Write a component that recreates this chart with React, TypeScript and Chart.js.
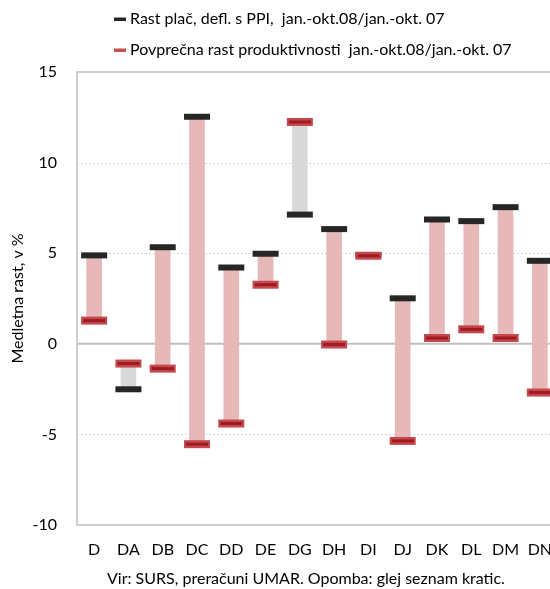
import React, { useEffect, useRef } from "react";
import { Chart, registerables } from "chart.js";

Chart.register(...registerables);

const categories = ["D", "DA", "DB", "DC", "DD", "DE", "DG", "DH", "DI", "DJ", "DK", "DL", "DM", "DN"];
const wageGrowth = [4.88, -2.51, 5.33, 12.53, 4.21, 4.97, 7.13, 6.33, 4.9, 2.51, 6.86, 6.77, 7.54, 4.58];
const productivityGrowth = [1.28, -1.09, -1.37, -5.54, -4.4, 3.26, 12.24, -0.04, 4.86, -5.36, 0.32, 0.8, 0.32, -2.69];
const yTicks = [15, 10, 5, 0, -5, -10];
const legendLabels = [
  "Rast plač, defl. s PPI,  jan.-okt.08/jan.-okt. 07",
  "Povprečna rast produktivnosti  jan.-okt.08/jan.-okt. 07",
];
const yTitle = "Medletna rast, v %";
const footer = "Vir: SURS, preračuni UMAR. Opomba: glej seznam kratic.";

const FONT = "Lato";
const FS = 16;

const extrasPlugin = {
  id: "extras",
  beforeDatasetsDraw(chart: any) {
    const { ctx, chartArea, scales } = chart;
    const y = scales.y;
    ctx.save();
    [10, 5, -5].forEach((v) => {
      const py = Math.round(y.getPixelForValue(v)) + 0.5;
      ctx.strokeStyle = "#d4d4d4";
      ctx.lineWidth = 1;
      ctx.setLineDash([2, 2]);
      ctx.beginPath();
      ctx.moveTo(chartArea.left, py);
      ctx.lineTo(chartArea.right, py);
      ctx.stroke();
    });
    ctx.setLineDash([]);
    const pz = y.getPixelForValue(0);
    ctx.strokeStyle = "#c0c0c0";
    ctx.lineWidth = 2;
    ctx.beginPath();
    ctx.moveTo(chartArea.left, pz);
    ctx.lineTo(chartArea.right, pz);
    ctx.stroke();
    ctx.strokeStyle = "#cfcfcf";
    ctx.lineWidth = 2;
    ctx.strokeRect(chartArea.left, chartArea.top, chartArea.right - chartArea.left, chartArea.bottom - chartArea.top);
    ctx.restore();
  },
  afterDraw(chart: any) {
    const { ctx } = chart;
    ctx.save();
    ctx.font = `${FS}px ${FONT}`;
    ctx.textBaseline = "middle";
    ctx.textAlign = "left";
    const rows = [19, 50];
    const colors = ["#262626", "#c0504d"];
    rows.forEach((ry, i) => {
      ctx.fillStyle = colors[i];
      ctx.fillRect(114, ry - 1.5, 12, 3.5);
      ctx.fillStyle = "#000";
      ctx.fillText(legendLabels[i], 130, ry);
    });
    ctx.fillText(footer, 107, 579);
    ctx.restore();
  },
};

export default function App() {
  const ref = useRef<HTMLCanvasElement>(null);
  useEffect(() => {
    const ranges = categories.map((_, i) => [
      Math.min(wageGrowth[i], productivityGrowth[i]),
      Math.max(wageGrowth[i], productivityGrowth[i]),
    ]);
    const barColors = categories.map((_, i) =>
      productivityGrowth[i] > wageGrowth[i] ? "#d9d9d9" : "#e6b9b8"
    );
    const chart = new Chart(ref.current as HTMLCanvasElement, {
      type: "bar",
      data: {
        labels: categories,
        datasets: [
          {
            type: "bar",
            data: ranges as any,
            backgroundColor: barColors,
            barThickness: 15,
            borderWidth: 0,
            order: 5,
          },
          {
            type: "line",
            data: wageGrowth,
            showLine: false,
            pointStyle: "line",
            pointRadius: 13,
            pointBorderWidth: 6,
            pointBorderColor: "#262626",
            pointBackgroundColor: "#262626",
            order: 3,
          },
          {
            type: "line",
            data: productivityGrowth,
            showLine: false,
            pointStyle: "line",
            pointRadius: 13,
            pointBorderWidth: 8,
            pointBorderColor: "#c4484d",
            pointBackgroundColor: "#c4484d",
            order: 2,
          },
          {
            type: "line",
            data: productivityGrowth,
            showLine: false,
            pointStyle: "line",
            pointRadius: 11,
            pointBorderWidth: 3,
            pointBorderColor: "#a01a22",
            pointBackgroundColor: "#a01a22",
            order: 1,
          },
        ],
      },
      options: {
        animation: false,
        responsive: false,
        layout: { padding: { top: 72, right: 7, left: 0, bottom: 0 } },
        plugins: { legend: { display: false }, tooltip: { enabled: false } },
        scales: {
          x: {
            grid: { display: false, drawTicks: false },
            border: { display: false },
            ticks: {
              color: "#000",
              font: { family: FONT, size: FS },
              padding: 15,
              maxRotation: 0,
              minRotation: 0,
              autoSkip: false,
            },
            afterFit: (s: any) => {
              s.height = 64;
            },
          },
          y: {
            min: -10,
            max: 15,
            afterBuildTicks: (s: any) => {
              s.ticks = yTicks.map((v) => ({ value: v }));
            },
            grid: { display: false, drawTicks: false },
            border: { display: false },
            ticks: { color: "#000", font: { family: FONT, size: FS }, padding: 20 },
            title: {
              display: true,
              text: yTitle,
              color: "#000",
              font: { family: FONT, size: FS },
              padding: { top: 8, bottom: 8 },
            },
            afterFit: (s: any) => {
              s.width = 77;
            },
          },
        },
      },
      plugins: [extrasPlugin],
    });
    return () => chart.destroy();
  }, []);
  return (
    <div style={{ position: "fixed", left: 0, top: 0, width: 550, height: 589, overflow: "hidden", background: "#fff" }}>
      <canvas ref={ref} width={578} height={589} style={{ display: "block", width: 578, height: 589 }} />
    </div>
  );
}
